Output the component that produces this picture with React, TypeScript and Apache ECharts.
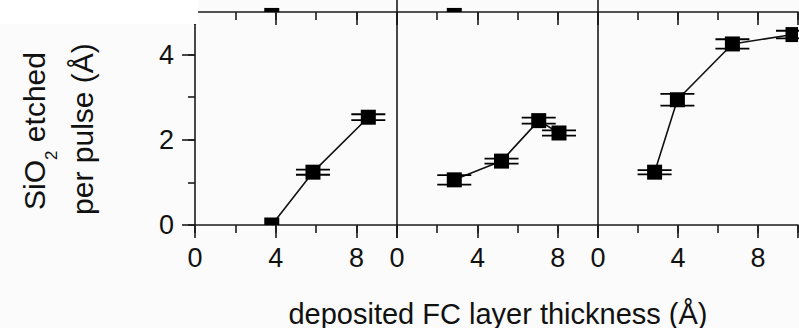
import React, { useEffect, useRef } from "react";
import * as echarts from "echarts";

// panel 1
const xA = [3.8, 5.84, 8.58];
const yA = [0.0, 1.24, 2.53];
const eA = [0, 0.06, 0.07];
// panel 2
const xB = [2.85, 5.2, 7.05, 8.06];
const yB = [1.06, 1.5, 2.45, 2.16];
const eB = [0.11, 0.06, 0.07, 0.06];
// panel 3
const xC = [2.83, 3.97, 6.72, 9.75];
const yC = [1.24, 2.94, 4.25, 4.47];
const eC = [0.05, 0.14, 0.11, 0.09];
// points of the panel row above, peeking over its x axis (panels 1 and 2)
const xTop1 = [3.8];
const yTop1 = [-0.08];
const xTop2 = [2.85];
const yTop2 = [-0.08];

const xMajorTicks = [0, 4, 8];
const yMajorTicks = [0, 2, 4];
const xMax = 10;
const yMax = 5;
const yTopMax = 0.28;

const yTitle1 = "SiO{sub|2} etched";
const yTitle2 = "per pulse (Å)";
const xTitle = "deposited FC layer thickness (Å)";

const FONT = "'Liberation Sans', Arial, sans-serif";
const INK = "#111";
const AXIS = "#1c1c1c";
const HALF = 7.5;
const CAP = 17;

const renderMarker = (params: any, api: any) => {
  const x = api.value(0);
  const y = api.value(1);
  const e = api.value(2);
  const c = api.coord([x, y]);
  const cs = params.coordSys;
  const bounds = { x: cs.x, y: cs.y, width: cs.width, height: cs.height };
  const children: any[] = [];
  if (e > 0) {
    [y + e, y - e].forEach((v) => {
      const p = api.coord([x, v]);
      if (p[1] >= cs.y && p[1] <= cs.y + cs.height) {
        children.push({
          type: "line",
          shape: { x1: p[0] - CAP, y1: p[1], x2: p[0] + CAP, y2: p[1] },
          style: { stroke: "#000", lineWidth: 1.8 },
        });
      }
    });
  }
  const r = echarts.graphic.clipRectByRect(
    { x: c[0] - HALF, y: c[1] - HALF, width: 2 * HALF, height: 2 * HALF },
    bounds
  );
  if (r && r.width > 0 && r.height > 0) {
    children.push({ type: "rect", shape: r, style: { fill: "#000" } });
  }
  return { type: "group", children };
};

const zip3 = (xs: number[], ys: number[], es?: number[]) =>
  xs.map((x, i) => [x, ys[i], es ? es[i] : 0]);

export default function App() {
  const ref = useRef<HTMLDivElement>(null);
  useEffect(() => {
    if (!ref.current) return;
    const chart = echarts.init(ref.current, undefined, { renderer: "svg" });

    const lefts = [195, 397, 598];
    const widths = [202, 201, 200];
    const grids: any[] = [];
    lefts.forEach((l, i) =>
      grids.push({ left: l, top: 12, width: widths[i], height: 213, containLabel: false, outerBoundsMode: "none" })
    );
    lefts.forEach((l, i) =>
      grids.push({ left: l, top: 0, width: widths[i], height: 12, containLabel: false, outerBoundsMode: "none" })
    );

    const xAxes: any[] = [];
    const yAxes: any[] = [];
    const lineStyle = { color: AXIS, width: 1.6 };
    for (let g = 0; g < 6; g++) {
      const lower = g < 3;
      xAxes.push({
        type: "value",
        gridIndex: g,
        min: 0,
        max: xMax,
        interval: 4,
        position: "bottom",
        axisLine: { show: true, onZero: false, lineStyle },
        axisTick: { show: true, length: 13, lineStyle },
        axisLabel: {
          show: lower,
          margin: 19,
          fontSize: 27,
          fontFamily: FONT,
          color: INK,
          formatter: (v: number) => (xMajorTicks.indexOf(v) >= 0 ? String(v) : ""),
        },
        splitLine: { show: false },
      });
      xAxes.push({
        type: "value",
        gridIndex: g,
        min: 0,
        max: xMax,
        interval: 2,
        position: "bottom",
        axisLine: { show: false },
        axisTick: { show: true, length: 8, lineStyle },
        axisLabel: { show: false },
        splitLine: { show: false },
      });
    }
    for (let g = 0; g < 3; g++) {
      const first = g === 0;
      yAxes.push({
        type: "value",
        gridIndex: g,
        min: 0,
        max: yMax,
        interval: 2,
        position: "left",
        axisLine: { show: true, onZero: false, lineStyle },
        axisTick: { show: first, length: 13, lineStyle },
        axisLabel: {
          show: first,
          margin: 21,
          fontSize: 27,
          fontFamily: FONT,
          color: INK,
          formatter: (v: number) => (yMajorTicks.indexOf(v) >= 0 ? String(v) : ""),
        },
        splitLine: { show: false },
      });
      yAxes.push({
        type: "value",
        gridIndex: g,
        min: 0,
        max: yMax,
        interval: 1,
        position: "left",
        offset: 0,
        axisLine: { show: false },
        axisTick: { show: first, length: 7, lineStyle },
        axisLabel: { show: false },
        splitLine: { show: false },
      });
    }
    for (let g = 3; g < 6; g++) {
      yAxes.push({
        type: "value",
        gridIndex: g,
        min: 0,
        max: yTopMax,
        position: "left",
        axisLine: { show: g > 3, onZero: false, lineStyle },
        axisTick: { show: false },
        axisLabel: { show: false },
        splitLine: { show: false },
      });
    }

    const panels = [
      { x: xA, y: yA, e: eA },
      { x: xB, y: yB, e: eB },
      { x: xC, y: yC, e: eC },
    ];
    const series: any[] = [];
    panels.forEach((p, i) => {
      series.push({
        type: "line",
        xAxisIndex: 2 * i,
        yAxisIndex: 2 * i,
        data: p.x.map((x, k) => [x, p.y[k]]),
        symbol: "none",
        showSymbol: false,
        lineStyle: { color: "#111", width: 1.6 },
        z: 2,
      });
      series.push({
        type: "custom",
        xAxisIndex: 2 * i,
        yAxisIndex: 2 * i,
        data: zip3(p.x, p.y, p.e),
        encode: { x: 0, y: 1 },
        renderItem: renderMarker,
        z: 3,
      });
    });
    series.push({
      type: "custom",
      xAxisIndex: 6,
      yAxisIndex: 6,
      data: zip3(xTop1, yTop1),
      encode: { x: 0, y: 1 },
      renderItem: renderMarker,
      z: 3,
    });
    series.push({
      type: "custom",
      xAxisIndex: 8,
      yAxisIndex: 7,
      data: zip3(xTop2, yTop2),
      encode: { x: 0, y: 1 },
      renderItem: renderMarker,
      z: 3,
    });

    chart.setOption({
      animation: false,
      backgroundColor: "#fbfbfb",
      grid: grids,
      xAxis: xAxes,
      yAxis: yAxes,
      series,
      graphic: [
        {
          type: "rect",
          shape: { x: 0, y: 0, width: 198, height: 24 },
          style: { fill: "#ffffff" },
          z: 100,
        },
        {
          type: "text",
          x: 34,
          y: 131,
          rotation: Math.PI / 2,
          style: {
            text: yTitle1,
            fontSize: 30,
            fontFamily: FONT,
            fill: INK,
            align: "center",
            verticalAlign: "middle",
            lineHeight: 32,
            rich: {
              sub: { fontSize: 17, lineHeight: 17, padding: [34, 0, 0, 0], fontFamily: FONT, fill: INK },
            },
          },
          z: 101,
        },
        {
          type: "text",
          x: 82.5,
          y: 129,
          rotation: Math.PI / 2,
          style: {
            text: yTitle2,
            fontSize: 30,
            fontFamily: FONT,
            fill: INK,
            align: "center",
            verticalAlign: "middle",
          },
          z: 101,
        },
        {
          type: "text",
          x: 498,
          y: 313.5,
          style: {
            text: xTitle,
            fontSize: 29,
            fontFamily: FONT,
            fill: INK,
            align: "center",
            verticalAlign: "middle",
          },
          z: 101,
        },
      ],
    });
    return () => chart.dispose();
  }, []);
  return (
    <div
      ref={ref}
      style={{ position: "fixed", left: 0, top: 0, width: 799, height: 328 }}
    />
  );
}
